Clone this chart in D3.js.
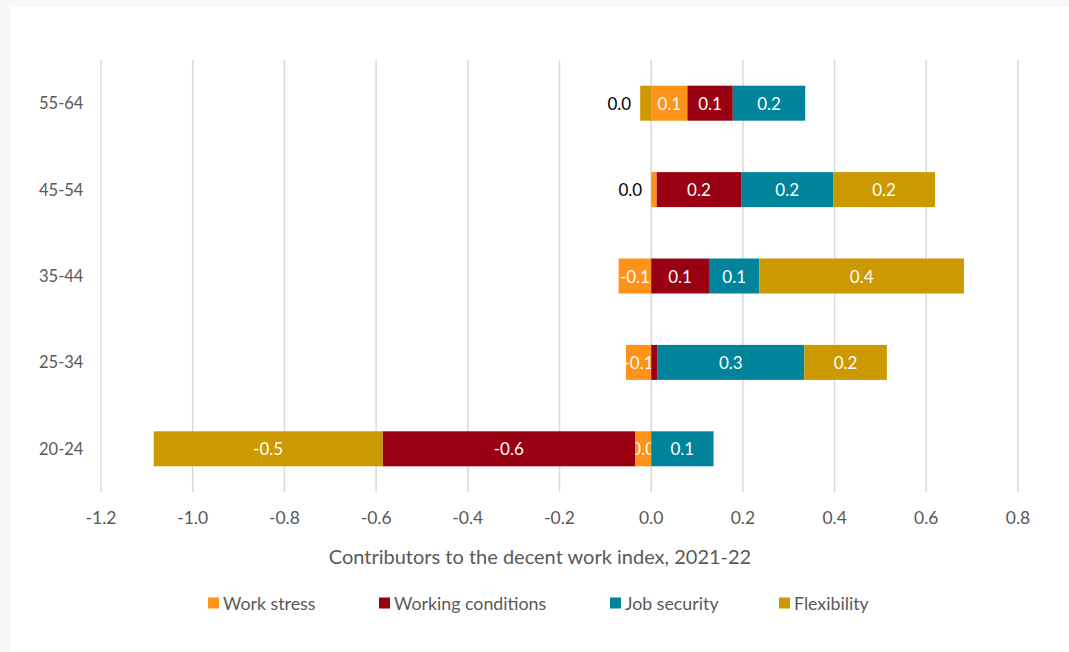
<!DOCTYPE html>
<html>
<head>
<meta charset="utf-8">
<script src="https://cdn.jsdelivr.net/npm/d3@7"></script>
<style>
  html, body { margin: 0; padding: 0; background: #f7f7f7; }
  #chart { position: absolute; left: 10px; top: 7px; }
  text { font-family: Lato, "Noto Sans", sans-serif; }
</style>
</head>
<body>
<svg id="chart" width="1059" height="645"></svg>
<script>
// age groups, top to bottom
const ageGroups = ['55-64', '45-54', '35-44', '25-34', '20-24'];
const seriesNames = ['Work stress', 'Working conditions', 'Job security', 'Flexibility'];
const seriesColors = ['#ff9218', '#990011', '#00849b', '#cc9900'];

// values, one per age group
const workStress = [0.079, 0.012, -0.071, -0.055, -0.035];
const workingConditions = [0.099, 0.184, 0.126, 0.013, -0.551];
const jobSecurity = [0.158, 0.201, 0.110, 0.321, 0.136];
const flexibility = [-0.024, 0.222, 0.446, 0.180, -0.499];

const xTicks = [-1.2, -1.0, -0.8, -0.6, -0.4, -0.2, 0.0, 0.2, 0.4, 0.6, 0.8];
const axisTitle = 'Contributors to the decent work index, 2021-22';

// labels Excel pushed outside the bar, and the one it dropped
const outsideLabels = [['55-64', 'Flexibility'], ['45-54', 'Work stress']];
const hiddenLabels = [['25-34', 'Working conditions']];

const seriesValues = [workStress, workingConditions, jobSecurity, flexibility];
const table = ageGroups.map((age, i) => {
  const row = { age: age };
  seriesNames.forEach((s, j) => { row[s] = seriesValues[j][i]; });
  return row;
});

const ox = -10, oy = -7; // svg offset from page
const svg = d3.select('#chart');
svg.append('rect').attr('width', 1059).attr('height', 645).attr('fill', '#fff');
const g = svg.append('g').attr('transform', `translate(${ox},${oy})`);

const x = d3.scaleLinear().domain([-1.2, 0.8]).range([101, 1018]);
const y = d3.scaleBand().domain(ageGroups).range([60, 492]).paddingInner(0.595).paddingOuter(0.2975);
const fmt = (v) => d3.format('.1f')(v).replace('−', '-');

// gridlines
g.append('g').selectAll('line')
  .data(xTicks)
  .enter()
  .append('line')
  .attr('x1', (d) => x(d)).attr('x2', (d) => x(d))
  .attr('y1', 60).attr('y2', 492)
  .attr('stroke', '#d9d9d9').attr('stroke-width', 1.5);

// tick labels
g.append('g').selectAll('text')
  .data(xTicks)
  .enter()
  .append('text')
  .attr('x', (d) => x(d)).attr('y', 517)
  .attr('text-anchor', 'middle').attr('dominant-baseline', 'central')
  .attr('font-size', 17.5).attr('fill', '#595959')
  .text(fmt);

// category labels
g.append('g').selectAll('text')
  .data(ageGroups)
  .enter()
  .append('text')
  .attr('x', 39).attr('y', (d) => y(d) + y.bandwidth() / 2)
  .attr('dominant-baseline', 'central')
  .attr('font-size', 16.5).attr('fill', '#595959')
  .text((d) => d);

// stacked bars
const stack = d3.stack().keys(seriesNames).offset(d3.stackOffsetDiverging);
const layers = stack(table);
const color = d3.scaleOrdinal().domain(seriesNames).range(seriesColors);

const isIn = (list, age, key) => list.some((p) => p[0] === age && p[1] === key);

layers.forEach((layer) => {
  const key = layer.key;
  const lg = g.append('g');
  lg.selectAll('rect')
    .data(layer)
    .enter()
    .append('rect')
    .attr('x', (d) => x(Math.min(d[0], d[1])))
    .attr('width', (d) => Math.abs(x(d[1]) - x(d[0])))
    .attr('y', (d) => y(d.data.age))
    .attr('height', y.bandwidth())
    .attr('fill', color(key));

  lg.selectAll('text')
    .data(layer.filter((d) => !isIn(hiddenLabels, d.data.age, key)))
    .enter()
    .append('text')
    .each(function (d) {
      const v = d.data[key];
      const t = d3.select(this)
        .attr('y', y(d.data.age) + y.bandwidth() / 2)
        .attr('dominant-baseline', 'central')
        .attr('font-size', 17)
        .text(fmt(v));
      if (isIn(outsideLabels, d.data.age, key)) {
        // stacked bar's left edge for this row
        const rowLayers = layers.map((l) => l[ageGroups.indexOf(d.data.age)]);
        const left = d3.min(rowLayers, (r) => Math.min(r[0], r[1]));
        t.attr('x', x(left) - 9).attr('text-anchor', 'end').attr('fill', '#000');
      } else {
        t.attr('x', (x(d[0]) + x(d[1])) / 2).attr('text-anchor', 'middle').attr('fill', '#fff');
      }
    });
});

// axis title
g.append('text')
  .attr('x', 540).attr('y', 556)
  .attr('text-anchor', 'middle').attr('dominant-baseline', 'central')
  .attr('font-size', 20).attr('fill', '#595959')
  .text(axisTitle);

// legend
const legendX = [208, 379, 610, 779];
const legend = g.append('g').selectAll('g')
  .data(seriesNames)
  .enter()
  .append('g')
  .attr('transform', (d, i) => `translate(${legendX[i]},603)`);
legend.append('rect')
  .attr('x', 0).attr('y', -5.5).attr('width', 11).attr('height', 11)
  .attr('fill', (d) => color(d));
legend.append('text')
  .attr('x', 15).attr('y', 0)
  .attr('dominant-baseline', 'central')
  .attr('font-size', 17.8).attr('fill', '#595959')
  .text((d) => d);
</script>
</body>
</html>
